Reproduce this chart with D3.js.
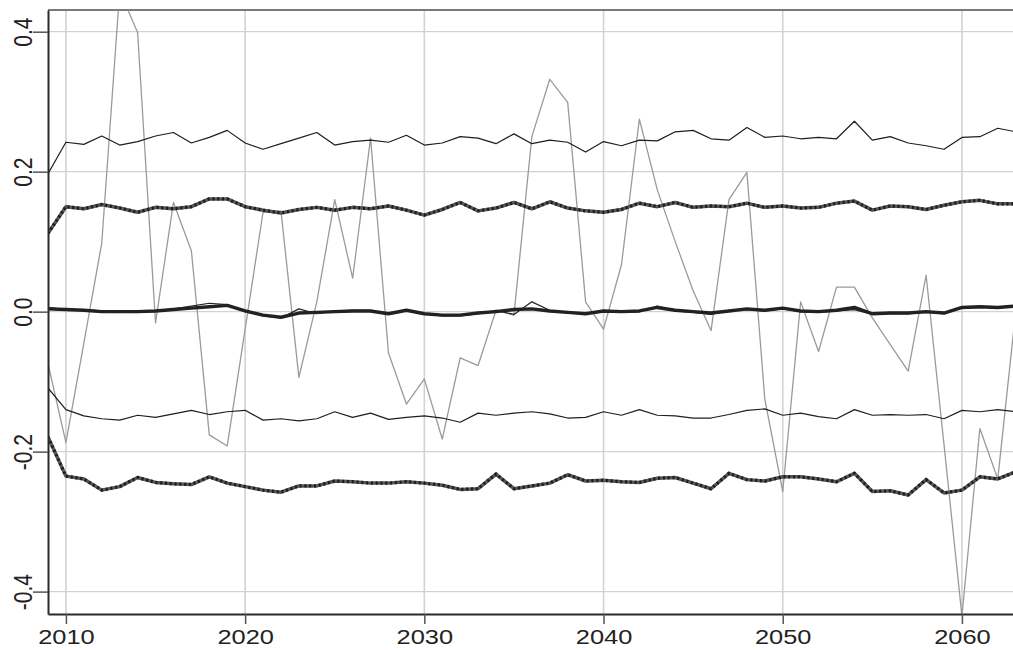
<!DOCTYPE html>
<html>
<head>
<meta charset="utf-8">
<script src="https://cdn.jsdelivr.net/npm/d3@7"></script>
<style>
  html, body { margin: 0; padding: 0; background: #ffffff; }
  svg { display: block; }
</style>
</head>
<body>
<script>
// ---------------- DATA ----------------
const years = d3.range(2009, 2064);

const xTickValues = [2010, 2020, 2030, 2040, 2050, 2060];
const xTickLabels = ["2010", "2020", "2030", "2040", "2050", "2060"];
const yTickValues = [-0.4, -0.2, 0.0, 0.2, 0.4];
const yTickLabels = ["-0.4", "-0.2", "0.0", "0.2", "0.4"];

const upperThin = [
  0.197, 0.242, 0.239, 0.251, 0.238, 0.243, 0.251, 0.256, 0.241, 0.249, 0.259, 0.241,
  0.232, 0.240, 0.248, 0.256, 0.238, 0.243, 0.245, 0.242, 0.252, 0.238,
  0.241, 0.250, 0.248, 0.240, 0.254, 0.240, 0.245, 0.242, 0.228, 0.243,
  0.237, 0.245, 0.244, 0.257, 0.259, 0.247, 0.245, 0.263, 0.249, 0.251,
  0.247, 0.249, 0.247, 0.272, 0.245, 0.250, 0.241, 0.237, 0.232, 0.249,
  0.250, 0.262, 0.257
];

const upperThick = [
  0.112, 0.150, 0.147, 0.153, 0.148, 0.142, 0.149, 0.147, 0.150, 0.161, 0.161, 0.150,
  0.145, 0.141, 0.146, 0.149, 0.145, 0.149, 0.147, 0.151, 0.145, 0.138,
  0.146, 0.156, 0.144, 0.148, 0.156, 0.147, 0.157, 0.148, 0.144, 0.142,
  0.146, 0.155, 0.150, 0.156, 0.149, 0.151, 0.150, 0.155, 0.149, 0.151,
  0.148, 0.149, 0.155, 0.158, 0.145, 0.151, 0.150, 0.146, 0.152, 0.157,
  0.159, 0.154, 0.154
];

const centerThick = [
  0.004, 0.003, 0.002, 0.000, 0.000, 0.000, 0.001, 0.003, 0.005, 0.007, 0.009, 0.001,
  -0.005, -0.008, -0.002, -0.001, 0.000, 0.001, 0.001, -0.003, 0.002, -0.003,
  -0.005, -0.005, -0.002, 0.000, 0.003, 0.004, 0.001, -0.001, -0.003, 0.001,
  0.000, 0.001, 0.006, 0.002, 0.000, -0.002, 0.001, 0.004, 0.002, 0.005,
  0.001, 0.000, 0.002, 0.006, -0.003, -0.002, -0.002, 0.000, -0.002, 0.006,
  0.007, 0.006, 0.008
];

const centerThin = [
  0.006, 0.003, 0.003, 0.001, -0.001, 0.000, 0.001, 0.004, 0.008, 0.012, 0.010, 0.000,
  -0.006, -0.009, 0.004, -0.003, 0.001, 0.002, 0.002, -0.004, 0.003, -0.003,
  -0.006, -0.006, -0.003, 0.002, -0.004, 0.014, 0.002, -0.002, -0.003, 0.000,
  -0.001, 0.000, 0.008, 0.001, -0.001, -0.004, 0.002, 0.003, 0.001, 0.004,
  0.000, -0.001, 0.001, 0.003, -0.004, -0.003, -0.003, -0.001, -0.003, 0.005,
  0.006, 0.006, 0.007
];

const lowerThin = [
  -0.109, -0.140, -0.149, -0.153, -0.155, -0.148, -0.151, -0.146, -0.141, -0.147, -0.143, -0.141,
  -0.155, -0.153, -0.156, -0.153, -0.143, -0.151, -0.145, -0.154, -0.151, -0.149,
  -0.152, -0.158, -0.145, -0.148, -0.145, -0.143, -0.146, -0.152, -0.151, -0.143,
  -0.148, -0.140, -0.148, -0.149, -0.152, -0.152, -0.147, -0.141, -0.139, -0.148,
  -0.145, -0.150, -0.153, -0.140, -0.148, -0.147, -0.148, -0.147, -0.153, -0.141,
  -0.143, -0.140, -0.143
];

const lowerThick = [
  -0.179, -0.235, -0.239, -0.255, -0.250, -0.237, -0.244, -0.246, -0.247, -0.236, -0.245, -0.250,
  -0.255, -0.258, -0.249, -0.249, -0.242, -0.243, -0.245, -0.245, -0.243, -0.245,
  -0.248, -0.254, -0.253, -0.232, -0.253, -0.249, -0.245, -0.233, -0.242, -0.241,
  -0.243, -0.244, -0.238, -0.237, -0.245, -0.253, -0.231, -0.240, -0.242, -0.236,
  -0.236, -0.239, -0.243, -0.231, -0.257, -0.256, -0.262, -0.240, -0.259, -0.255,
  -0.236, -0.239, -0.229
];

const grayVolatile = [
  -0.074, -0.187, -0.045, 0.098, 0.458, 0.399, -0.016, 0.156, 0.087, -0.176, -0.192, -0.025,
  0.142, 0.144, -0.094, 0.014, 0.160, 0.048, 0.248, -0.059, -0.132, -0.096,
  -0.182, -0.066, -0.077, 0.002, -0.005, 0.250, 0.332, 0.299, 0.014, -0.025,
  0.067, 0.275, 0.174, 0.100, 0.030, -0.027, 0.160, 0.199, -0.125, -0.257,
  0.014, -0.057, 0.035, 0.035, -0.009, -0.047, -0.085, 0.052, -0.190, -0.435,
  -0.167, -0.239, 0.000
];

// ---------------- LAYOUT ----------------
const W = 1013, H = 650;
const padLeft = 48, padTop = 10, plotBottom = 614, plotRight = 1015.7;
const STRETCH = 1.27; // horizontal stretch of the original text

const x = d3.scaleLinear().domain([2009, 2063]).range([padLeft, plotRight]);
const y = d3.scaleLinear().domain([-0.432, 0.431]).range([plotBottom, padTop]);

const svg = d3.select("body").append("svg")
  .attr("width", W).attr("height", H)
  .style("font-family", "'Liberation Sans', Arial, sans-serif");

svg.append("defs").append("clipPath").attr("id", "plotclip")
  .append("rect").attr("x", padLeft).attr("y", padTop)
  .attr("width", plotRight - padLeft).attr("height", plotBottom - padTop);

// grid
const grid = svg.append("g");
grid.selectAll("line.h").data(yTickValues).join("line")
  .attr("class", "h")
  .attr("x1", padLeft).attr("x2", plotRight)
  .attr("y1", d => y(d)).attr("y2", d => y(d))
  .attr("stroke", "#d2d2d2").attr("stroke-width", 1.2);
grid.selectAll("line.v").data(xTickValues).join("line")
  .attr("class", "v")
  .attr("x1", d => x(d)).attr("x2", d => x(d))
  .attr("y1", padTop).attr("y2", plotBottom)
  .attr("stroke", "#d2d2d2").attr("stroke-width", 1.6);

// top border
svg.append("line").attr("x1", padLeft).attr("x2", plotRight).attr("y1", padTop).attr("y2", padTop)
  .attr("stroke", "#7a7a7a").attr("stroke-width", 2);

// series
const plot = svg.append("g").attr("clip-path", "url(#plotclip)");
const line = d3.line().x((d, i) => x(years[i])).y(d => y(d));

function drawSolid(data, color, width) {
  plot.append("path").datum(data).attr("d", line)
    .attr("fill", "none").attr("stroke", color).attr("stroke-width", width)
    .attr("stroke-linejoin", "round");
}
function drawDotted(data) {
  plot.append("path").datum(data).attr("d", line)
    .attr("fill", "none").attr("stroke", "#555555").attr("stroke-width", 3.5)
    .attr("stroke-linejoin", "round");
  plot.append("path").datum(data).attr("d", line)
    .attr("fill", "none").attr("stroke", "#1c1c1c").attr("stroke-width", 3.2)
    .attr("stroke-dasharray", "2,2.8");
}

drawSolid(grayVolatile, "#9a9a9a", 1.3);
drawSolid(upperThin, "#1e1e1e", 1.2);
drawSolid(lowerThin, "#1e1e1e", 1.2);
drawDotted(upperThick);
drawDotted(lowerThick);
drawSolid(centerThick, "#222222", 3.4);
drawSolid(centerThin, "#222222", 1.2);

// axes
const xAxis = d3.axisBottom(x).tickValues(xTickValues)
  .tickFormat((d, i) => xTickLabels[i]).tickSize(10).tickSizeOuter(0);
const gx = svg.append("g").attr("transform", `translate(0,${plotBottom})`).call(xAxis);
gx.select(".domain").attr("stroke", "#2a2a2a").attr("stroke-width", 2);
gx.selectAll(".tick line").attr("stroke", "#555").attr("stroke-width", 1.5);
gx.selectAll(".tick text")
  .attr("y", null).attr("dy", null)
  .attr("transform", `translate(0,30) scale(${STRETCH},1)`)
  .attr("text-anchor", "middle")
  .attr("fill", "#222").style("font-size", "20px");

const yAxis = d3.axisLeft(y).tickValues(yTickValues)
  .tickFormat((d, i) => yTickLabels[i]).tickSize(15).tickSizeOuter(0);
const gy = svg.append("g").attr("transform", `translate(${padLeft},0)`).call(yAxis);
gy.select(".domain").attr("stroke", "#2a2a2a").attr("stroke-width", 2);
gy.selectAll(".tick line").attr("stroke", "#555").attr("stroke-width", 1.5);
gy.selectAll(".tick text")
  .attr("x", null).attr("dy", null)
  .attr("transform", `translate(-16,0) scale(${STRETCH},1) rotate(-90)`)
  .attr("text-anchor", "middle")
  .attr("fill", "#222").style("font-size", "21px");
svg.selectAll(".domain").attr("fill", "none");
</script>
</body>
</html>
